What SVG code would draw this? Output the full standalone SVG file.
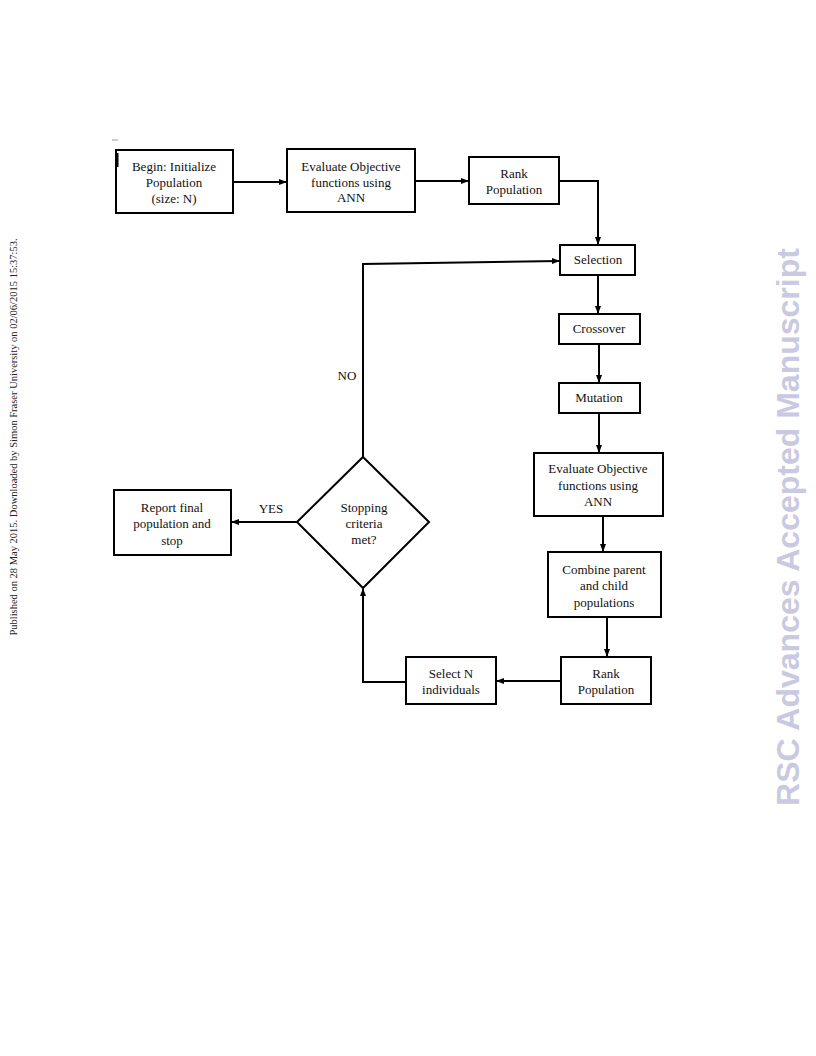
<svg xmlns="http://www.w3.org/2000/svg" width="816" height="1056" viewBox="0 0 816 1056">
<style>
.box{fill:#fff;stroke:#000;stroke-width:2}
.t{font-family:"Liberation Serif","Times New Roman",serif;font-size:13px;fill:#111;text-anchor:middle}
.c{fill:none;stroke:#000;stroke-width:2}
</style>
<defs>
<marker id="ah" markerWidth="8" markerHeight="8" refX="7" refY="4" orient="auto" markerUnits="userSpaceOnUse">
<path d="M0,1 L8,4 L0,7 Z" fill="#000"/>
</marker>
</defs>
<rect width="816" height="1056" fill="#fff"/>
<text x="14" y="437" transform="rotate(-90 14 437)" style="font-family:'Liberation Serif',serif;font-size:10.5px;fill:#222;text-anchor:middle" dy="3">Published on 28 May 2015. Downloaded by Simon Fraser University on 02/06/2015 15:37:53.</text>
<text x="788" y="527" transform="rotate(-90 788 527)" style="font-family:'Liberation Sans',Arial,sans-serif;font-size:32px;font-weight:bold;fill:#c9c9e1;text-anchor:middle" dy="11">RSC Advances Accepted Manuscript</text>
<line x1="112" y1="140" x2="118" y2="140" stroke="#999" stroke-width="1"/>

<g id="connectors">
<line class="c" x1="233" y1="182" x2="286" y2="182" marker-end="url(#ah)"/>
<line class="c" x1="415" y1="181" x2="468" y2="181" marker-end="url(#ah)"/>
<polyline class="c" points="559,181 598,181 598,244" marker-end="url(#ah)"/>
<line class="c" x1="598" y1="275" x2="598" y2="313" marker-end="url(#ah)"/>
<line class="c" x1="599" y1="344" x2="599" y2="382" marker-end="url(#ah)"/>
<line class="c" x1="599" y1="413" x2="599" y2="452" marker-end="url(#ah)"/>
<line class="c" x1="603" y1="516" x2="603" y2="551" marker-end="url(#ah)"/>
<line class="c" x1="607" y1="617" x2="607" y2="656" marker-end="url(#ah)"/>
<line class="c" x1="561" y1="681" x2="497" y2="681" marker-end="url(#ah)"/>
<polyline class="c" points="406,682 363,682 363,589" marker-end="url(#ah)"/>
<polyline class="c" points="363,457 363,264 559,261" marker-end="url(#ah)"/>
<line class="c" x1="297" y1="522" x2="232" y2="522" marker-end="url(#ah)"/>
<text class="t" x="271" y="513">YES</text>
<text class="t" x="347" y="380">NO</text>
</g>

<g id="begin">
<rect class="box" x="116" y="150" width="117" height="63"/>
<line x1="117" y1="153" x2="117" y2="167" stroke="#000" stroke-width="3"/>
<text class="t" x="174" y="171">Begin: Initialize</text>
<text class="t" x="174" y="187">Population</text>
<text class="t" x="174" y="203">(size: N)</text>
</g>
<g id="evaluate1">
<rect class="box" x="287" y="149" width="128" height="63"/>
<text class="t" x="351" y="171">Evaluate Objective</text>
<text class="t" x="351" y="187">functions using</text>
<text class="t" x="351" y="202">ANN</text>
</g>
<g id="rank1">
<rect class="box" x="469" y="157" width="90" height="47"/>
<text class="t" x="514" y="178">Rank</text>
<text class="t" x="514" y="194">Population</text>
</g>
<g id="selection">
<rect class="box" x="560" y="245" width="75" height="30"/>
<text class="t" x="598" y="264">Selection</text>
</g>
<g id="crossover">
<rect class="box" x="559" y="314" width="81" height="30"/>
<text class="t" x="599" y="333">Crossover</text>
</g>
<g id="mutation">
<rect class="box" x="559" y="383" width="81" height="30"/>
<text class="t" x="599" y="402">Mutation</text>
</g>
<g id="evaluate2">
<rect class="box" x="534" y="453" width="129" height="63"/>
<text class="t" x="598" y="473">Evaluate Objective</text>
<text class="t" x="598" y="490">functions using</text>
<text class="t" x="598" y="506">ANN</text>
</g>
<g id="combine">
<rect class="box" x="548" y="552" width="113" height="65"/>
<text class="t" x="604" y="574">Combine parent</text>
<text class="t" x="604" y="590">and child</text>
<text class="t" x="604" y="607">populations</text>
</g>
<g id="rank2">
<rect class="box" x="561" y="657" width="90" height="47"/>
<text class="t" x="606" y="678">Rank</text>
<text class="t" x="606" y="694">Population</text>
</g>
<g id="selectN">
<rect class="box" x="406" y="657" width="90" height="47"/>
<text class="t" x="451" y="678">Select N</text>
<text class="t" x="451" y="694">individuals</text>
</g>
<g id="stopping">
<polygon class="box" points="363,457 429,522 363,588 297,522"/>
<text class="t" x="364" y="512">Stopping</text>
<text class="t" x="364" y="528">criteria</text>
<text class="t" x="364" y="544">met?</text>
</g>
<g id="report">
<rect class="box" x="114" y="490" width="117" height="65"/>
<text class="t" x="172" y="512">Report final</text>
<text class="t" x="172" y="528">population and</text>
<text class="t" x="172" y="545">stop</text>
</g>
</svg>
